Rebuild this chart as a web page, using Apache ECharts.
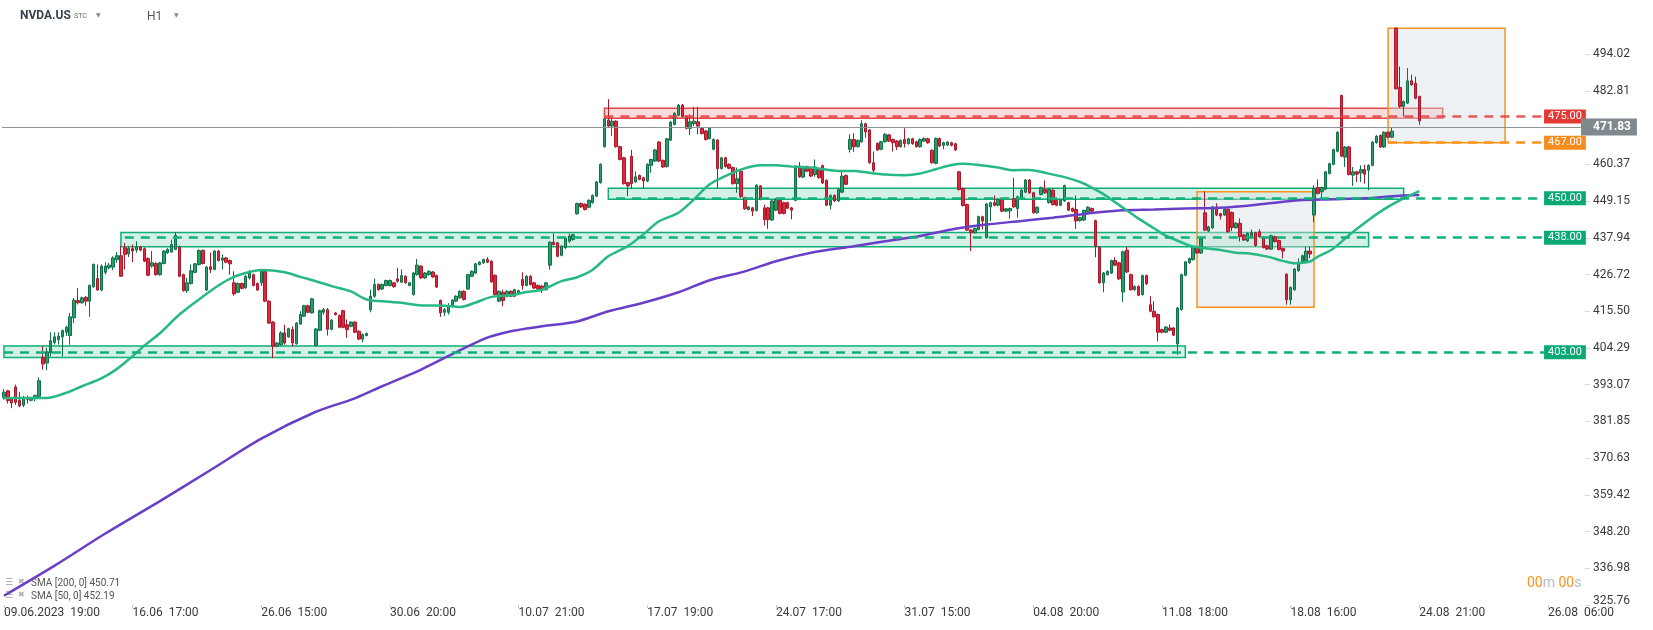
<!DOCTYPE html>
<html>
<head>
<meta charset="utf-8">
<script src="https://cdn.jsdelivr.net/npm/echarts/dist/echarts.min.js"></script>
<style>html,body{margin:0;padding:0;background:#fff;}#chart{width:1653px;height:630px;}</style>
</head>
<body>
<div id="chart"></div>
<script>
// ---------- DATA ----------
// hourly candles: [open, close, low, high]
const candles = [
[389.2,390.8,388.5,391.7],[391.2,388.2,387.3,391.5],[389.0,387.5,385.9,389.3],[392.4,387.7,386.9,393.1],[388.3,386.6,386.2,390.9],
[386.8,389.0,386.2,389.7],[389.1,388.6,387.3,389.7],[388.3,389.0,388.0,389.3],[388.8,389.8,388.0,390.0],[389.5,394.3,389.2,395.3],
[401.4,399.4,397.7,404.8],[399.7,403.1,397.5,404.3],[402.8,406.5,401.7,409.1],[406.0,407.7,405.3,409.1],[406.8,407.9,405.3,409.1],
[407.7,409.6,401.7,409.9],[409.1,410.6,407.9,411.1],[408.1,413.8,405.3,415.0],[413.5,418.9,411.9,419.6],[418.8,418.1,417.6,422.6],
[418.1,419.6,417.8,420.0],[419.8,418.6,417.2,420.1],[418.6,423.4,413.8,423.7],[423.0,429.8,422.7,430.1],[425.5,422.0,421.8,429.8],
[422.0,429.3,421.6,429.8],[427.4,429.3,426.7,430.5],[428.8,429.6,428.3,430.3],[429.0,431.8,428.1,432.3],[431.3,432.5,430.3,433.6],
[432.5,426.2,426.0,435.4],[434.9,432.9,428.3,436.4],[433.0,434.7,432.1,435.4],[434.7,433.9,430.5,435.9],[434.2,435.1,433.4,436.9],
[435.1,434.2,433.8,435.5],[434.6,430.8,430.5,435.0],[431.6,426.5,426.2,432.0],[429.3,430.3,428.8,433.9],[430.1,426.7,426.4,430.5],
[426.7,430.3,426.4,430.6],[430.1,433.9,429.8,434.2],[433.4,434.4,433.0,434.8],[433.6,435.9,433.4,437.4],[434.4,438.7,434.2,439.7],
[435.1,426.2,425.9,435.6],[426.7,421.8,421.5,427.0],[421.8,424.2,421.1,425.7],[424.0,427.9,423.7,429.8],[427.4,430.0,427.1,430.3],
[429.8,434.1,429.5,434.4],[434.1,430.1,429.8,434.4],[422.0,429.0,421.7,429.3],[429.1,428.3,427.2,433.4],[428.3,433.9,428.0,434.2],
[433.9,431.0,430.7,434.2],[431.1,431.8,428.3,432.8],[431.8,430.5,430.2,432.1],[431.0,430.0,426.7,431.3],[424.2,420.8,420.3,427.7],
[421.3,424.0,421.0,424.3],[424.0,422.5,422.2,424.3],[422.7,426.2,422.4,426.5],[425.7,427.2,425.2,428.1],[426.7,423.4,423.1,427.0],
[424.0,422.0,421.7,424.3],[424.2,427.7,423.2,428.3],[427.7,418.6,418.3,428.0],[418.6,411.9,411.6,418.9],[412.2,404.8,401.2,412.5],
[404.8,405.8,404.5,406.1],[405.3,408.9,405.0,409.4],[408.9,405.8,405.3,411.4],[407.7,410.2,407.4,410.5],[409.9,405.8,404.8,410.9],
[405.6,411.9,405.3,412.2],[411.6,414.5,411.4,415.5],[414.0,417.2,413.7,417.5],[417.2,415.2,414.9,417.5],[415.0,419.3,414.8,419.6],
[405.1,410.1,404.8,410.4],[409.7,415.7,409.4,416.0],[415.2,416.0,414.5,416.5],[416.0,410.0,408.1,416.5],[410.0,412.8,409.7,413.1],
[415.0,414.5,414.2,415.3],[414.2,410.6,410.3,414.5],[415.7,410.6,410.3,416.0],[411.4,409.9,407.4,413.0],[410.9,412.2,410.6,412.5],
[412.2,409.1,408.8,412.5],[409.4,407.0,406.7,409.7],[407.0,408.4,406.0,408.7],[408.1,408.7,407.8,409.0],[416.0,420.1,415.2,422.1],
[420.1,423.7,419.6,425.5],[423.7,422.1,421.8,424.0],[422.3,423.7,422.0,424.0],[423.4,424.9,423.1,425.2],[423.4,424.9,423.1,425.2],
[424.2,423.0,422.7,424.5],[425.4,424.7,424.2,428.8],[424.4,426.4,424.2,428.3],[426.2,424.2,423.9,426.5],[423.4,424.2,423.1,424.5],
[420.6,427.2,420.3,427.5],[426.7,429.6,426.4,431.5],[429.3,425.7,425.4,429.6],[425.7,427.2,425.4,427.5],[426.7,427.7,426.4,428.0],
[427.5,426.0,425.7,427.8],[426.4,422.9,422.6,426.7],[418.8,415.0,413.8,419.1],[415.2,416.0,414.0,416.5],[415.2,417.2,414.5,418.0],
[417.0,418.9,416.7,419.2],[418.6,420.1,418.3,420.4],[419.6,421.6,419.3,421.9],[421.6,419.1,418.8,421.9],[422.3,426.7,422.0,427.0],
[426.2,427.7,425.9,428.0],[427.2,430.0,426.9,430.3],[429.8,430.5,429.5,430.8],[430.3,431.3,430.0,431.6],[431.3,430.5,430.2,432.0],
[430.8,424.5,424.2,431.1],[426.5,420.6,420.3,426.8],[418.6,421.6,418.3,421.9],[421.3,418.8,417.0,422.1],[420.1,421.6,419.8,421.9],
[421.6,420.1,419.8,421.9],[420.1,422.1,419.8,422.4],[420.9,421.8,420.6,422.1],[425.2,423.4,422.1,427.4],[423.4,426.2,423.1,426.5],
[426.2,423.7,423.4,426.5],[424.2,422.6,422.3,424.5],[423.4,422.3,422.0,423.7],[423.2,422.1,421.1,423.5],[422.1,424.2,421.8,424.5],
[429.6,436.6,428.2,436.9],[436.6,435.9,435.6,439.3],[436.4,432.3,432.0,436.7],[432.6,435.4,432.3,435.7],[434.9,437.9,434.6,438.2],
[436.9,438.5,436.4,439.3],[437.4,438.9,437.1,439.2],[445.3,448.4,445.0,448.7],[448.4,447.4,447.1,448.7],[448.2,446.6,446.3,448.5],
[447.3,449.4,447.0,449.7],[448.7,450.9,448.4,451.2],[450.7,455.0,450.4,455.3],[454.8,460.4,454.5,460.7],[465.8,474.2,465.5,474.5],
[473.9,472.1,471.8,480.3],[472.1,473.6,469.1,474.7],[473.6,465.8,465.5,473.9],[465.8,461.9,461.6,466.1],[462.4,454.5,454.2,462.7],
[454.8,453.8,450.7,455.1],[462.9,454.5,452.9,464.8],[455.0,456.6,454.8,458.3],[457.0,455.8,455.5,457.3],[456.3,455.3,453.2,456.6],
[455.3,460.4,455.0,460.7],[460.1,461.9,457.8,462.1],[461.4,464.8,461.1,465.1],[467.2,461.4,461.1,467.5],[461.6,459.6,459.3,461.9],
[459.7,468.2,459.4,468.5],[467.8,473.3,467.5,473.6],[472.6,476.0,472.3,476.3],[475.4,478.5,475.1,478.8],[478.5,475.0,474.7,478.8],
[475.0,471.4,471.1,475.3],[471.4,473.4,469.3,475.7],[472.8,473.6,472.1,478.0],[473.4,472.1,469.6,478.0],[471.4,469.8,469.5,471.7],
[470.6,468.0,467.7,470.9],[468.3,471.4,468.0,471.7],[465.0,468.0,464.7,468.3],[467.8,459.1,453.2,468.1],[459.1,462.4,458.8,462.7],
[462.4,459.7,459.4,462.7],[460.4,459.2,458.9,460.7],[459.4,454.5,454.2,459.7],[454.5,456.0,451.7,459.4],[458.3,450.5,450.2,458.6],
[450.2,446.8,446.5,450.5],[446.6,447.4,446.3,447.7],[447.1,446.1,444.6,447.4],[446.3,454.0,446.0,454.3],[453.8,449.7,449.4,454.1],
[447.1,443.5,441.7,448.1],[447.1,443.5,440.7,447.4],[443.4,449.2,443.1,449.5],[446.4,449.7,446.1,450.0],[449.4,445.4,445.1,449.7],
[448.7,445.4,445.1,449.0],[448.7,447.0,446.7,449.0],[447.1,446.4,443.6,447.4],[449.4,459.9,449.1,460.2],[459.9,456.6,456.3,461.1],
[456.5,459.7,456.2,460.0],[459.7,458.3,458.0,460.0],[459.2,456.8,456.5,459.5],[457.3,459.6,456.6,461.9],[458.8,456.3,456.0,459.1],
[460.0,454.7,454.4,460.3],[455.5,447.9,447.6,455.8],[447.9,450.9,446.6,451.2],[450.9,449.2,448.9,451.2],[449.2,452.7,448.9,453.0],
[451.9,456.8,451.6,458.7],[457.0,454.3,454.0,457.3],[465.0,468.0,464.0,469.6],[468.0,465.8,464.2,469.9],[465.8,467.7,465.5,468.0],
[467.3,472.8,467.0,473.9],[472.8,470.3,468.5,473.1],[470.9,460.9,460.6,471.2],[460.9,458.6,457.6,464.3],[466.8,464.8,464.5,467.1],
[465.0,467.3,464.7,467.6],[467.3,469.6,467.0,469.9],[469.4,467.5,467.2,469.7],[468.0,467.0,464.3,468.3],[467.5,465.8,464.8,467.8],
[465.8,467.7,465.5,468.0],[468.0,466.7,465.5,471.4],[466.7,468.2,466.4,468.5],[468.2,466.7,466.4,468.5],[467.3,465.8,465.5,467.6],
[465.8,468.0,465.5,468.3],[467.5,468.3,467.2,468.6],[468.2,467.0,466.7,468.5],[464.7,460.9,460.6,465.0],[460.7,468.3,460.4,468.6],
[468.3,466.0,465.7,468.6],[466.2,467.0,465.0,467.3],[466.3,467.2,466.0,467.5],[467.0,466.2,465.9,467.3],[466.7,464.8,464.5,467.0],
[458.1,452.7,452.4,458.4],[453.0,447.8,447.5,453.3],[448.1,440.3,440.0,448.4],[440.3,439.5,433.9,440.6],[439.5,440.8,439.2,441.1],
[440.5,444.4,440.2,444.7],[444.4,443.1,440.5,444.7],[438.0,448.3,437.7,448.6],[447.4,448.7,443.0,449.0],[448.7,447.9,447.6,450.9],
[447.9,449.7,447.6,450.0],[449.7,446.1,445.8,450.0],[446.1,446.8,445.8,447.1],[446.2,446.9,443.8,447.2],[449.9,447.4,447.1,456.3],
[446.9,450.5,444.1,450.8],[449.9,452.5,449.6,452.8],[451.9,455.6,451.6,455.9],[455.6,451.7,451.4,455.9],[451.7,445.6,445.3,452.0],
[445.6,447.3,445.3,447.6],[451.2,453.3,450.9,453.6],[452.7,451.7,451.4,455.5],[448.7,452.7,448.4,453.0],[452.5,448.1,447.8,452.8],
[449.4,447.9,447.6,449.7],[447.9,449.4,447.6,449.7],[449.2,453.9,448.9,454.2],[448.7,446.4,446.1,449.0],[446.9,446.1,445.8,447.2],
[446.6,443.1,440.7,450.9],[443.2,444.1,442.9,444.4],[443.4,446.3,443.1,446.6],[445.9,447.3,445.6,447.6],[446.9,446.1,445.8,447.2],
[443.2,435.4,432.0,443.5],[435.1,424.2,423.9,435.4],[424.2,427.2,421.3,427.5],[426.7,427.7,426.4,428.0],[427.2,431.0,426.9,431.3],
[431.0,429.6,429.3,432.0],[430.3,425.4,425.1,430.6],[421.4,433.7,418.3,434.0],[434.2,427.5,427.2,435.2],[426.7,422.1,421.8,427.0],
[422.1,423.1,421.8,423.4],[423.1,420.4,420.1,423.4],[420.6,426.4,420.3,426.7],[426.4,423.9,423.6,426.7],[417.5,415.5,415.2,420.1],
[415.5,413.8,413.5,418.6],[414.5,409.1,406.3,414.8],[409.9,409.1,408.8,410.2],[409.1,410.7,408.8,411.0],[410.4,409.7,409.4,411.5],
[410.4,408.2,407.9,410.7],[405.5,416.5,402.2,416.8],[416.0,426.7,415.7,427.0],[426.5,430.6,426.2,430.9],[430.3,431.6,430.0,431.9],
[431.3,435.2,431.0,435.5],[435.2,433.3,433.0,435.5],[433.3,437.6,433.0,437.9],[445.6,440.3,440.0,452.2],[440.0,441.3,439.7,441.6],
[441.0,447.4,440.7,447.7],[447.4,444.9,444.6,448.5],[445.3,444.6,443.5,445.6],[444.9,446.6,444.6,447.2],[446.6,439.8,439.5,446.9],
[445.7,441.1,440.0,446.0],[441.0,442.4,440.7,442.7],[442.4,438.3,436.8,443.9],[438.8,437.3,437.0,439.1],[437.0,439.3,436.7,439.6],
[438.3,439.5,438.0,440.5],[439.5,435.6,435.3,439.8],[439.8,438.3,438.0,440.6],[438.1,435.0,434.7,438.4],[435.5,434.5,434.2,435.8],
[434.5,438.6,434.2,438.9],[438.3,436.8,436.5,438.6],[437.1,434.4,434.1,437.4],[434.7,433.9,431.7,435.0],[426.8,419.0,417.5,427.1],
[419.0,422.8,417.5,423.1],[422.1,428.4,421.8,428.7],[427.9,430.4,427.6,431.7],[430.7,432.5,430.4,432.8],[430.7,433.9,430.4,435.2],
[433.9,433.0,431.7,435.2],[444.9,453.0,442.7,454.0],[453.3,451.5,451.2,455.8],[452.0,453.3,450.0,453.6],[452.8,458.1,452.5,458.4],
[457.6,460.6,457.3,460.9],[460.4,464.9,460.1,465.2],[464.4,470.2,464.1,470.5],[481.4,462.9,462.6,481.7],[462.6,465.7,459.6,466.0],
[465.7,457.3,457.0,466.0],[457.1,458.1,453.8,459.6],[458.1,457.4,455.0,458.4],[457.8,458.8,455.0,460.1],[458.8,457.4,454.5,460.3],
[458.6,460.1,452.5,460.4],[460.1,467.2,459.8,467.5],[467.0,469.0,466.7,469.3],[469.2,465.7,465.4,469.5],[465.7,470.2,465.4,470.5],
[470.2,468.7,468.4,470.5],[468.7,470.5,468.4,471.8],[502.0,483.5,483.2,502.2],[483.9,478.1,477.6,490.3],[478.1,479.6,475.0,479.9],
[479.1,485.9,478.8,489.8],[485.9,484.7,484.4,487.8],[485.2,480.6,480.3,487.2],[481.1,473.7,472.5,481.4]
];

// moving averages: [candle index, value]
const sma50 = [[0,389.0],[11,389.0],[16,390.6],[20,392.6],[25,395.0],[29,397.9],[33,401.8],[36,405.0],[40,408.8],[45,414.5],
[50,419.1],[55,423.4],[59,426.0],[63,427.5],[66,428.1],[72,427.4],[76,426.0],[80,424.7],[84,423.2],[89,421.6],[92,419.6],
[94,418.8],[97,418.6],[102,418.1],[107,417.3],[113,417.2],[117,416.8],[121,418.2],[125,419.9],[130,420.4],[134,421.4],
[138,422.1],[143,424.7],[147,425.9],[151,428.2],[155,432.3],[160,435.4],[164,439.0],[168,443.0],[173,445.6],[177,449.7],
[181,454.3],[185,456.8],[189,458.8],[194,460.1],[198,460.1],[202,459.7],[207,459.4],[214,458.4],[218,458.4],[222,457.8],
[226,457.3],[231,457.1],[235,457.6],[239,458.9],[243,460.2],[246,460.6],[250,460.2],[255,459.4],[259,458.6],[263,458.7],
[267,457.8],[272,456.5],[276,455.0],[279,453.3],[282,451.3],[285,448.8],[288,446.3],[291,443.8],[295,440.8],[298,438.6],
[302,436.6],[304,435.6],[307,434.9],[312,434.2],[316,433.4],[319,433.2],[324,432.2],[328,430.9],[331,430.2],[335,430.7],
[337,432.2],[341,434.7],[345,438.8],[350,443.4],[354,446.7],[358,449.4],[363,452.2]];
const sma200 = [[0,328.6],[13,337.8],[26,347.6],[40,357.5],[53,367.0],[66,376.6],[80,384.8],[90,388.9],[97,392.6],[107,397.7],
[123,407.0],[130,409.4],[138,410.9],[147,412.4],[155,415.5],[164,418.1],[173,421.3],[181,425.0],[190,427.7],[198,430.8],
[207,433.4],[218,435.4],[226,436.9],[235,438.5],[243,440.5],[252,442.0],[261,443.1],[269,444.1],[278,445.4],[286,446.3],
[295,446.6],[303,446.9],[312,447.1],[324,448.4],[332,449.4],[341,449.7],[349,450.0],[358,450.8],[363,451.0]];

const slotCount = 406;
const xLabelIdx  = [0, 33, 66, 99, 132, 165, 198, 231, 264, 297, 330, 363, 396];
const xLabelText = ['09.06.2023  19:00','16.06  17:00','26.06  15:00','30.06  20:00','10.07  21:00','17.07  19:00',
                    '24.07  17:00','31.07  15:00','04.08  20:00','11.08  18:00','18.08  16:00','24.08  21:00','26.08  06:00'];
const yTicks = [325.76,336.98,348.20,359.42,370.63,381.85,393.07,404.29,415.50,426.72,437.94,449.15,460.37,471.59,482.81,494.02];
const yMin = 325.76, yMax = 510.61;

// levels: value, first candle index, last index
const levelValues = [475, 467, 450, 438, 403];
const levelFrom   = [154, 355, 157, 31, 0];
const levelTo     = 395;
const levelKinds  = ['red', 'orange', 'green', 'green', 'green'];

// zones: [fromIdx, toIdx, low, high]
const zones     = [[154,369,474.5,477.5],[155,359,449.7,453.1],[30,350,435.2,439.6],[0,303,401.4,404.9],[306,336,416.7,452.0],[355,385,467.0,502.0]];
const zoneKinds = ['red','green','green','green','box','box'];

const lastPrice = 471.83;
const sma200Label = 'SMA [200, 0] 450.71';
const sma50Label  = 'SMA [50, 0] 452.19';

// ---------- STYLES ----------
const FONT = 'Roboto';
const kindColor = {red:'#e53935', orange:'#f68c1e', green:'#0aa874'};
const lineColor = {red:'rgba(230,60,60,0.85)', orange:'#f7931e', green:'#12b07a'};
const zoneStyle = {
  red:   {color:'rgba(235,80,80,0.20)', borderColor:'#e04848', borderWidth:1.5},
  green: {color:'rgba(0,168,107,0.165)', borderColor:'#0fae74', borderWidth:1.5},
  box:   {color:'rgba(215,222,226,0.42)', borderColor:'#f7931e', borderWidth:1.5}
};

const labelMap = {};
xLabelIdx.forEach((ix, k) => { labelMap[ix] = xLabelText[k]; });
const cats = [];
for (let i = 0; i < slotCount; i++) cats.push(String(i));

const chart = echarts.init(document.getElementById('chart'), null, {renderer:'canvas'});
chart.setOption({
  animation: false,
  backgroundColor: '#ffffff',
  grid: {left: 2, right: 68, top: 0, bottom: 25, containLabel: false, outerBoundsMode: 'none'},
  xAxis: {
    type: 'category', data: cats, boundaryGap: true,
    axisLine: {show: false},
    axisTick: {show: true, alignWithLabel: true, length: 3, lineStyle: {color: '#c8c8c8'},
               interval: (idx) => labelMap[idx] !== undefined},
    axisLabel: {show: true, align: 'left', margin: 2, color: '#3a3a3a', fontSize: 12, fontFamily: FONT,
                interval: (idx) => labelMap[idx] !== undefined,
                formatter: (v, idx) => labelMap[idx] || ''},
    splitLine: {show: false}
  },
  yAxis: {
    type: 'value', position: 'right', min: yMin, max: yMax, scale: true,
    axisLine: {show: false},
    axisTick: {show: true, length: 5, lineStyle: {color: '#d8d8d8'}, customValues: yTicks},
    axisLabel: {show: true, margin: 8, color: '#3a3a3a', fontSize: 12, fontFamily: FONT, customValues: yTicks,
                formatter: (v) => (Math.abs(v - yTicks[0]) < 1e-6 ? '{low|' + v.toFixed(2) + '}' : v.toFixed(2)),
                rich: {low: {padding: [0,0,8,0], color:'#3a3a3a', fontSize:12, fontFamily: FONT}}},
    splitLine: {show: false}
  },
  series: [
    {
      type: 'candlestick', data: candles, barWidth: 3, z: 2,
      itemStyle: {color: '#2a9d6b', color0: '#e0283f', borderColor: '#0f7048', borderColor0: '#a8192c', borderWidth: 1}
    },
    {
      type: 'line', name: 'SMA200', data: sma200, smooth: 0.3, symbol: 'none', z: 3,
      lineStyle: {color: '#6a3fc8', width: 2.5}
    },
    {
      type: 'line', name: 'SMA50', data: sma50, smooth: 0.3, symbol: 'none', z: 3,
      lineStyle: {color: '#27b984', width: 2.5}
    },
    {
      type: 'line', data: [], z: 4, silent: true,
      markArea: {
        silent: true,
        data: zones.map((zn, k) => [
          {xAxis: zn[0], yAxis: zn[3], itemStyle: zoneStyle[zoneKinds[k]]},
          {xAxis: zn[1], yAxis: zn[2]}
        ])
      }
    },
    {
      type: 'line', data: [], z: 5, silent: true,
      markLine: {
        silent: true, symbol: ['none','none'],
        data: levelValues.map((v, k) => [
          {xAxis: levelFrom[k], yAxis: v,
           lineStyle: {color: lineColor[levelKinds[k]], width: 2.5, type: [9,7]},
           label: {show: true, position: 'end', distance: 0, formatter: v.toFixed(2),
                   backgroundColor: kindColor[levelKinds[k]], color: '#ffffff', fontSize: 11, fontFamily: FONT,
                   lineHeight: 12, padding: [1,4,1,4]}},
          {xAxis: levelTo, yAxis: v}
        ]).concat([
          {yAxis: lastPrice,
           lineStyle: {color: '#8c9396', width: 1, type: 'solid'},
           label: {show: true, position: 'end', distance: -4, formatter: lastPrice.toFixed(2),
                   backgroundColor: '#7f898e', color: '#ffffff', fontSize: 12, fontWeight: 'bold', fontFamily: FONT,
                   lineHeight: 13, padding: [2,6,2,12]}}
        ])
      }
    }
  ],
  graphic: [
    {type:'text', left: 20, top: 10, style:{text:'NVDA.US', font:'bold 12px Roboto', fill:'#36414c'}},
    {type:'text', left: 74, top: 13, style:{text:'STC', font:'7px Roboto', fill:'#666'}},
    {type:'text', left: 96, top: 12, style:{text:'▼', font:'6px "DejaVu Sans"', fill:'#888'}},
    {type:'text', left: 147, top: 11, style:{text:'H1', font:'12px Roboto', fill:'#555'}},
    {type:'text', left: 174, top: 12, style:{text:'▼', font:'6px "DejaVu Sans"', fill:'#888'}},
    {type:'text', left: 5, top: 578, style:{text:'☰', font:'9px "DejaVu Sans"', fill:'#9a9a9a'}},
    {type:'text', left: 18, top: 578, style:{text:'✖', font:'8px "DejaVu Sans"', fill:'#b0b0b0'}},
    {type:'text', left: 31, top: 578, style:{text: sma200Label, font:'10px Roboto', fill:'#555'}},
    {type:'text', left: 5, top: 591, style:{text:'☰', font:'9px "DejaVu Sans"', fill:'#9a9a9a'}},
    {type:'text', left: 18, top: 591, style:{text:'✖', font:'8px "DejaVu Sans"', fill:'#b0b0b0'}},
    {type:'text', left: 31, top: 591, style:{text: sma50Label, font:'10px Roboto', fill:'#555'}},
    {type:'text', left: 1527, top: 576, style:{text:'{o|00}{g|m }{o|00}{g|s}',
      rich:{o:{fontSize:14, fontFamily:FONT, fill:'#f7931e', color:'#f7931e'}, g:{fontSize:14, fontFamily:FONT, fill:'#b8bcbf', color:'#b8bcbf'}}}}
  ]
});
</script>
</body>
</html>
